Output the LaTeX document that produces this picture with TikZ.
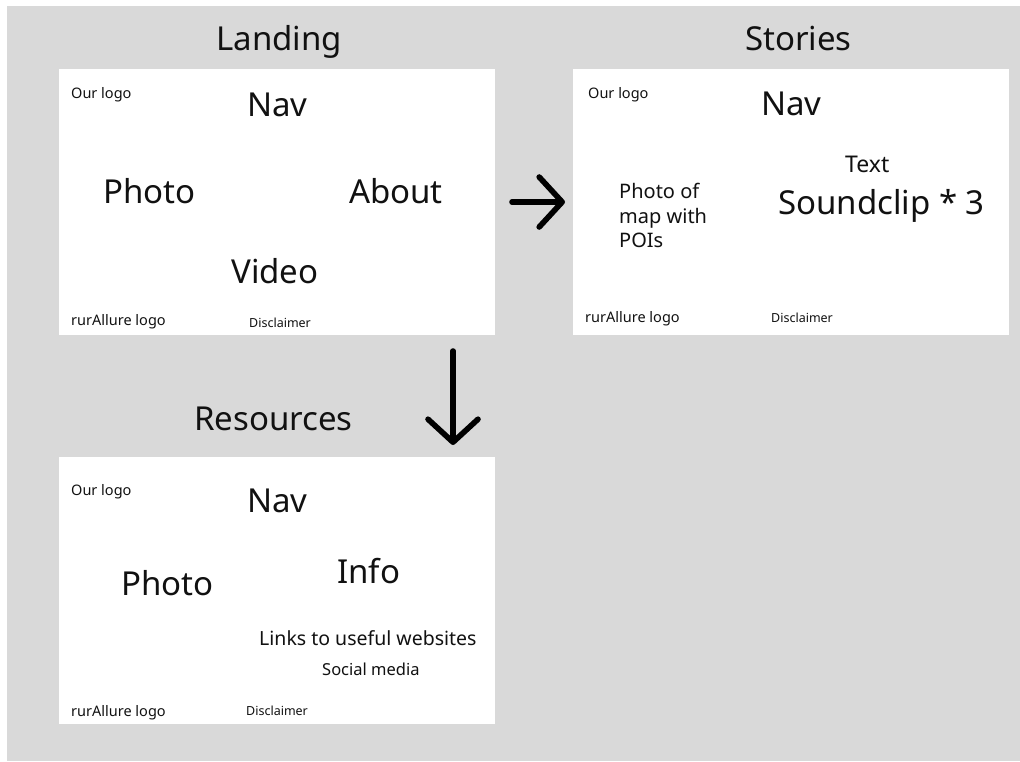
\documentclass[tikz,border=0pt]{standalone}
\usepackage{fontspec}
\setmainfont{Noto Sans}
\usetikzlibrary{arrows.meta}
\definecolor{bggray}{HTML}{D9D9D9}
\definecolor{ink}{HTML}{111111}
\tikzset{
  txt/.style={anchor=base west, inner sep=0pt, text=ink},
  title/.style={txt, font=\fontsize{33}{40}\selectfont},
  big/.style={txt, font=\fontsize{33}{40}\selectfont},
  mid/.style={txt, font=\fontsize{33}{38}\selectfont},
  med/.style={txt, font=\fontsize{23}{28}\selectfont},
  para/.style={txt, font=\fontsize{20}{24.5}\selectfont, align=left},
  links/.style={txt, font=\fontsize{19.5}{24}\selectfont},
  social/.style={txt, font=\fontsize{16.5}{20}\selectfont},
  small/.style={txt, font=\fontsize{14.5}{18}\selectfont},
  tiny/.style={txt, font=\fontsize{12.5}{15}\selectfont},
  page/.style={fill=white, draw=none},
  flow/.style={line width=5.6pt, line cap=round, line join=round, draw=black,
    -{Straight Barb[length=23pt, width=50pt, round]}}
}
\begin{document}
\begin{tikzpicture}[x=1pt,y=-1pt]
\useasboundingbox (0,0) rectangle (1020,761);
\fill[white] (0,0) rectangle (1020,761);
\fill[bggray] (7,6) rectangle (1020,761);

% Pages
\path[page] (59,69) rectangle (495,335);
\path[page] (573,69) rectangle (1009,335);
\path[page] (59,457) rectangle (495,724);

% Titles
\node[title] (tland) at (216,50) {Landing};
\node[title] (tstor) at (745,50) {Stories};
\node[title] (tres) at (194,430) {Resources};

% Landing
\node[small] (l1) at (71,98) {Our logo};
\node[big] (l2) at (247,116) {Nav};
\node[big] (l3) at (103,203) {Photo};
\node[big] (l4) at (349,203) {About};
\node[big] (l5) at (231,283) {Video};
\node[small] (l6) at (71,325) {rurAllure logo};
\node[tiny] (l7) at (249,327) {Disclaimer};

% Stories
\node[small] (s1) at (588,98) {Our logo};
\node[big] (s2) at (761,115) {Nav};
\node[med] (s3) at (845,172) {Text};
\node[mid] (s4) at (778,214) {Soundclip * 3};
\node[para] (s5a) at (619,198) {Photo of};
\node[para] (s5b) at (619,223) {map with};
\node[para] (s5c) at (619,247) {POIs};
\node[small] (s6) at (585,322) {rurAllure logo};
\node[tiny] (s7) at (771,322) {Disclaimer};

% Resources
\node[small] (r1) at (71,495) {Our logo};
\node[big] (r2) at (247,512) {Nav};
\node[big] (r3) at (121,595) {Photo};
\node[big] (r4) at (337,583) {Info};
\node[links] (r5) at (259,645) {Links to useful websites};
\node[social] (r6) at (322,675) {Social media};
\node[small] (r7) at (71,716) {rurAllure logo};
\node[tiny] (r8) at (246,715) {Disclaimer};

% Arrows
\coordinate (ra1) at (512,202);
\coordinate (ra2) at (565,202);
\coordinate (da1) at (453,351);
\coordinate (da2) at (453,445);
\draw[flow] (ra1) -- (ra2);
\draw[flow] (da1) -- (da2);
\end{tikzpicture}
\end{document}
